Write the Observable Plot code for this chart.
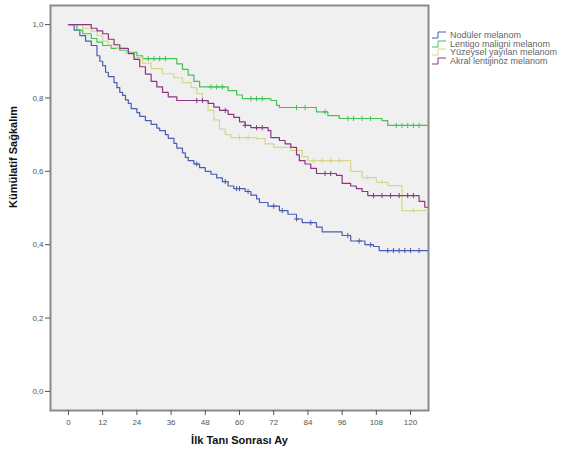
<!DOCTYPE html>
<html><head><meta charset="utf-8">
<script src="https://cdn.jsdelivr.net/npm/d3@7"></script>
<script src="https://cdn.jsdelivr.net/npm/@observablehq/plot@0.6"></script>
<style>
body{margin:0;background:#fff;font-family:"Liberation Sans",Arial,sans-serif;}
#wrap{position:relative;width:561px;height:457px;overflow:hidden;}
#legend{position:absolute;left:431px;top:31px;font-size:9px;color:#666;}
.row{display:flex;align-items:center;height:8.5px;white-space:nowrap;}
.row svg{margin-right:3px;}
</style></head><body><div id="wrap"></div>
<script>
// Series
const series = ["Nodüler melanom", "Lentigo maligni melanom", "Yüzeysel yayılan melanom", "Akral lentijinöz melanom"];
const colors = ["#4b5cb3", "#45c257", "#d6d68c", "#8c3583"];

// Kaplan–Meier steps (month, cumulative survival)
const nodulerT = [0,2,4,6,8,10,11,12,13,14,16,17,18,19,20,21,22,24,25,27,29,31,32,34,35,37,38,40,41,42,44,46,48,50,52,54,56,58,62,64,66,67,70,74,77,80,82,87,89,96,99,104,107,109,126];
const nodulerS = [1,0.985,0.970,0.955,0.943,0.915,0.900,0.888,0.870,0.858,0.842,0.828,0.815,0.807,0.795,0.785,0.771,0.760,0.750,0.738,0.728,0.718,0.711,0.700,0.690,0.676,0.663,0.650,0.638,0.629,0.620,0.610,0.600,0.592,0.582,0.572,0.560,0.553,0.545,0.535,0.525,0.515,0.505,0.493,0.483,0.470,0.460,0.448,0.435,0.425,0.410,0.400,0.395,0.384,0.384];

const lentigoT = [0,3,5,8,10,12,15,18,21,24,26,38,40,42,44,46,56,59,61,71,73,74,87,91,95,110,112,126];
const lentigoS = [1,0.985,0.975,0.962,0.952,0.943,0.935,0.930,0.924,0.915,0.907,0.893,0.878,0.862,0.845,0.830,0.820,0.808,0.798,0.793,0.780,0.774,0.762,0.752,0.744,0.738,0.725,0.725];

const yuzeyselT = [0,5,8,10,12,14,17,20,23,26,29,33,37,40,43,45,47,49,51,53,55,57,66,69,72,78,82,84,99,103,108,112,117,126];
const yuzeyselS = [1,0.990,0.982,0.970,0.955,0.945,0.935,0.922,0.910,0.895,0.880,0.866,0.855,0.842,0.828,0.812,0.790,0.766,0.740,0.715,0.700,0.692,0.689,0.675,0.665,0.657,0.640,0.629,0.600,0.583,0.570,0.561,0.493,0.488];

const akralT = [0,7,8,10,12,14,16,18,21,23,25,27,29,31,33,35,38,49,51,53,56,58,60,62,64,70,71,74,76,78,80,81,83,85,87,94,96,99,101,103,105,123,125,126];
const akralS = [1,1,0.990,0.983,0.975,0.960,0.945,0.935,0.921,0.905,0.885,0.865,0.845,0.830,0.815,0.803,0.793,0.785,0.775,0.766,0.755,0.747,0.735,0.725,0.719,0.711,0.692,0.684,0.675,0.665,0.645,0.629,0.620,0.608,0.594,0.589,0.567,0.560,0.553,0.545,0.534,0.518,0.502,0.502];

// Censored observations (months)
const nodulerC = [45,55,59,60,63,72,75,80,85,98,102,106,112,114,116,118,120,123];
const lentigoC = [28,30,32,34,50,52,54,64,66,68,80,83,90,98,100,103,106,115,117,119,121,123];
const yuzeyselC = [60,63,86,89,92,95,105,110,121];
const akralC = [45,47,55,62,66,68,90,92,107,110,113,116,119,121];

const xTicks = [0,12,24,36,48,60,72,84,96,108,120];
const yTicks = [0,0.2,0.4,0.6,0.8,1.0];

const allT = [nodulerT, lentigoT, yuzeyselT, akralT];
const allS = [nodulerS, lentigoS, yuzeyselS, akralS];
const allC = [nodulerC, lentigoC, yuzeyselC, akralC];

const steps = [];
allT.forEach((T, i) => T.forEach((t, j) => steps.push({seri: series[i], ay: t, s: allS[i][j]})));
function survAt(T, S, t) { let k = 0; for (let j = 0; j < T.length; j++) if (T[j] <= t) k = j; return S[k]; }
const cens = [];
allC.forEach((C, i) => C.forEach(t => cens.push({seri: series[i], ay: t, s: survAt(allT[i], allS[i], t)})));

const fmt = d => d.toFixed(1).replace(".", ",");

const chart = Plot.plot({
  width: 561, height: 457,
  marginLeft: 50, marginRight: 133, marginTop: 5, marginBottom: 47,
  style: {fontFamily: "Liberation Sans, Arial, sans-serif", background: "transparent"},
  x: {domain: [-6.3, 126.3]},
  y: {domain: [-0.052, 1.052]},
  color: {domain: series, range: colors},
  marks: [
    Plot.frame({fill: "#f0f0f0", stroke: "#8a8a8a", strokeWidth: 2}),
    Plot.axisX({ticks: xTicks, tickFormat: d => String(d), tickSize: 5, tickPadding: 4, fontSize: 8, color: "#555", label: null}),
    Plot.axisY({ticks: yTicks, tickFormat: fmt, tickSize: 5, tickPadding: 2, fontSize: 8, color: "#555", label: null}),
    Plot.line(steps, {x: "ay", y: "s", z: "seri", stroke: "seri", curve: "step-after", strokeWidth: 1.2}),
    Plot.dot(cens, {x: "ay", y: "s", stroke: "seri", symbol: "plus", r: 1.8, strokeWidth: 1}),
    Plot.text(["Kümülatif Sağkalım"], {frameAnchor: "left", rotate: -90, dx: -37, fontWeight: "bold", fontSize: 11, fill: "#111"}),
    Plot.text(["İlk Tanı Sonrası Ay"], {frameAnchor: "bottom", dy: 33, fontWeight: "bold", fontSize: 11, fill: "#111"})
  ]
});
const wrap = document.getElementById("wrap");
wrap.appendChild(chart);

const leg = document.createElement("div");
leg.id = "legend";
series.forEach((name, i) => {
  const row = document.createElement("div");
  row.className = "row";
  row.innerHTML = `<svg width="16" height="8"><path d="M1,7H7V1H15" fill="none" stroke="${colors[i]}" stroke-width="1"/></svg><span>${name}</span>`;
  leg.appendChild(row);
});
wrap.appendChild(leg);
</script></body></html>
